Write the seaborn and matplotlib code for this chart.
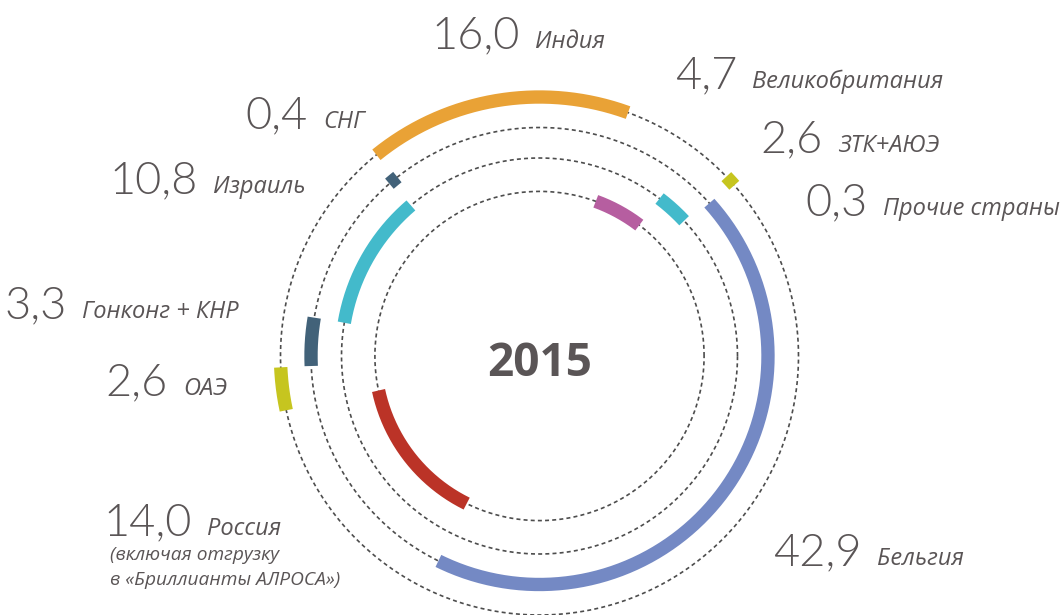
import numpy as np
import pandas as pd
import matplotlib
matplotlib.use("Agg")
import matplotlib.pyplot as plt
import seaborn as sns

# ---- data ----
countries = ["ОАЭ", "Гонконг + КНР", "Израиль", "СНГ", "Индия",
             "Великобритания", "ЗТК+АЮЭ", "Прочие страны", "Бельгия", "Россия"]
values = [2.6, 3.3, 10.8, 0.4, 16.0, 4.7, 2.6, 0.3, 42.9, 14.0]
value_labels = ["2,6", "3,3", "10,8", "0,4", "16,0", "4,7", "2,6", "0,3", "42,9", "14,0"]
ring_index = [0, 1, 2, 1, 0, 3, 2, 0, 1, 3]
colors = ["#C6C51F", "#426279", "#43BACB", "#426279", "#E9A236",
          "#B65EA0", "#43BACB", "#C6C51F", "#7489C4", "#BB3327"]
year = "2015"

# ---- layout / style ----
W, H = 1064, 615
cx, cy = 539.5, 356
radii = [259, 228.5, 198, 164.6]
start_angle = 192.1                 # degrees; segments run clockwise
min_span = 2.6                      # minimal drawn span (deg) for tiny shares
label_pos = {                       # left edge / baseline of the italic label
    "ОАЭ": (183, 395), "Гонконг + КНР": (82, 318), "Израиль": (213, 193),
    "СНГ": (323, 128), "Индия": (535, 48), "Великобритания": (752, 88),
    "ЗТК+АЮЭ": (838, 152), "Прочие страны": (883, 215), "Бельгия": (877, 565),
    "Россия": (207, 535),
}
TXT = "#5A5556"
NUM_FONT = ["Lato", "DejaVu Sans"]
LBL_FONT = ["Open Sans", "DejaVu Sans"]

sns.set_theme(style="white")
plt.rcParams["lines.solid_capstyle"] = "butt"

fig = plt.figure(figsize=(W / 100, H / 100), dpi=100)
ax = fig.add_axes([0, 0, 1, 1])

# dotted guide rings
t = np.linspace(0, 2 * np.pi, 900)
for r in radii:
    ax.plot(cx + r * np.cos(t), cy - r * np.sin(t), color="#4d4d4d",
            lw=1.2, linestyle=(0, (2.4, 1.9)), zorder=1)

# arcs: shares of the total laid out around the full circle
total = float(np.sum(values))
rows = []
cum = 0.0
for name, v, k in zip(countries, values, ring_index):
    span = v / total * 360.0
    a0 = start_angle - cum
    cum += span
    span_draw = max(span, min_span)
    mid = a0 - span / 2
    th = np.deg2rad(np.linspace(mid + span_draw / 2, mid - span_draw / 2, 240))
    for j, a in enumerate(th):
        rows.append({"seg": name, "order": j,
                     "x": cx + radii[k] * np.cos(a), "y": cy - radii[k] * np.sin(a)})
df = pd.DataFrame(rows)
sns.lineplot(data=df, x="x", y="y", hue="seg", palette=dict(zip(countries, colors)),
             sort=False, estimator=None, linewidth=9.6, legend=False, ax=ax,
             zorder=3, solid_capstyle="butt")
ax.set_xlim(0, W)
ax.set_ylim(H, 0)
ax.axis("off")

# labels
for name, vl in zip(countries, value_labels):
    x, y = label_pos[name]
    ax.text(x - 15, y, vl, ha="right", va="baseline", fontsize=32.5,
            family=NUM_FONT, fontweight=300, color=TXT)
    ax.text(x, y, name, ha="left", va="baseline", fontsize=17,
            family=LBL_FONT, style="italic", color=TXT)
ax.text(110, 560, "(включая отгрузку", ha="left", va="baseline", fontsize=13.8,
        family=LBL_FONT, style="italic", color=TXT)
ax.text(110, 585, "в «Бриллианты АЛРОСА»)", ha="left", va="baseline", fontsize=13.8,
        family=LBL_FONT, style="italic", color=TXT)

ax.text(540, 376, year, ha="center", va="baseline", fontsize=33, fontweight="bold",
        family=LBL_FONT, color=TXT)

fig.savefig("out.png", dpi=100)
